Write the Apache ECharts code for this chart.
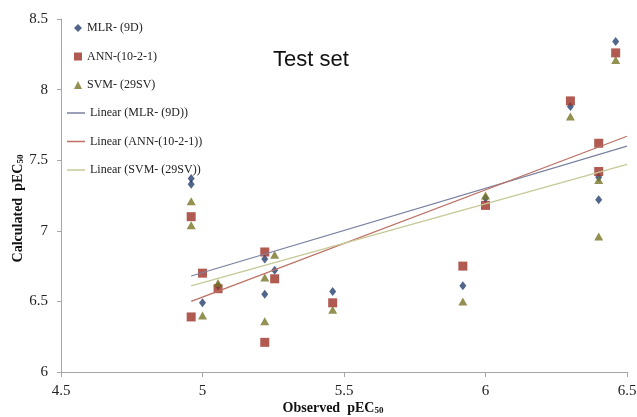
<!DOCTYPE html>
<html>
<head>
<meta charset="utf-8">
<script src="https://cdn.jsdelivr.net/npm/echarts@6/dist/echarts.min.js"></script>
<style>
  html, body { margin: 0; padding: 0; background: #fff; }
  #chart { width: 637px; height: 417px; }
</style>
</head>
<body>
<div id="chart"></div>
<script>
// Observed activity of each test-set compound
const observed = [4.96, 4.96, 5.00, 5.055, 5.22, 5.22, 5.255, 5.46, 5.92, 6.00, 6.30, 6.40, 6.40, 6.46];
// Calculated activity per model
const mlrCalc = [7.37, 7.33, 6.49, 6.61, 6.80, 6.55, 6.72, 6.57, 6.61, 7.23, 7.88, 7.22, 7.38, 8.34];
const annCalc = [7.10, 6.39, 6.70, 6.59, 6.85, 6.21, 6.66, 6.49, 6.75, 7.18, 7.92, 7.62, 7.42, 8.26];
const svmCalc = [7.21, 7.04, 6.40, 6.63, 6.67, 6.36, 6.83, 6.44, 6.50, 7.25, 7.81, 6.96, 7.36, 8.21];
// Linear trend lines: [x start, y start], [x end, y end]
const mlrTrend = [[4.96, 6.68], [6.5, 7.60]];
const annTrend = [[4.96, 6.50], [6.5, 7.67]];
const svmTrend = [[4.96, 6.61], [6.5, 7.47]];
// Axis ranges
const xRange = [4.5, 6.5];
const yRange = [6, 8.5];
const tickStep = 0.5;

const pairs = (ys) => observed.map((x, i) => [x, ys[i]]);
const serif = "'Liberation Serif', 'Times New Roman', serif";
const legendText = { fontFamily: serif, fontSize: 12, color: '#222' };

const C = {
  mlr: '#27406e', ann: '#9e3127', svm: '#777527',
  mlrLine: '#7a80a0', annLine: '#bd6f62', svmLine: '#c5c896'
};

const axisName = {
  t: { fontFamily: serif, fontSize: 14, fontWeight: 'bold', color: '#111', verticalAlign: 'bottom', lineHeight: 18 },
  s: { fontFamily: serif, fontSize: 9, fontWeight: 'bold', color: '#111', verticalAlign: 'bottom', lineHeight: 14 }
};

const chart = echarts.init(document.getElementById('chart'), null, { renderer: 'canvas' });
chart.setOption({
  animation: false,
  backgroundColor: '#ffffff',
  title: {
    text: 'Test set',
    left: 268, top: 44,
    textStyle: { fontFamily: "'Liberation Sans', Arial, sans-serif", fontSize: 22, fontWeight: 'normal', color: '#111' }
  },
  grid: { left: 61, right: 10, top: 19, bottom: 45, outerBoundsMode: 'none', containLabel: false },
  legend: [
    {
      // marker entries
      orient: 'vertical', left: 74, top: 22, padding: 0,
      itemWidth: 8, itemHeight: 8, itemGap: 16.5,
      textStyle: legendText,
      data: [
        { name: 'MLR- (9D)', icon: 'diamond' },
        { name: 'ANN-(10-2-1)', icon: 'rect' },
        { name: 'SVM- (29SV)', icon: 'triangle' }
      ]
    },
    {
      // trend line entries
      orient: 'vertical', left: 67, top: 107, padding: 0,
      itemWidth: 18, itemHeight: 1.5, itemGap: 16.5,
      textStyle: legendText,
      data: [
        { name: 'Linear (MLR- (9D))', icon: 'rect' },
        { name: 'Linear (ANN-(10-2-1))', icon: 'rect' },
        { name: 'Linear (SVM- (29SV))', icon: 'rect' }
      ]
    }
  ],
  xAxis: {
    type: 'value', min: xRange[0], max: xRange[1], interval: tickStep,
    name: '{t|Observed  pEC}{s|50}',
    nameLocation: 'middle', nameGap: 25, nameMoveOverlap: false,
    nameTextStyle: { padding: [0, 22, 0, 0], rich: axisName },
    axisLine: { lineStyle: { color: '#a6a6a6', width: 1 } },
    axisTick: { show: true, inside: false, length: 5, lineStyle: { color: '#a6a6a6' } },
    axisLabel: { fontFamily: serif, fontSize: 15, color: '#222', margin: 12 },
    splitLine: { show: false }
  },
  yAxis: {
    type: 'value', min: yRange[0], max: yRange[1], interval: tickStep,
    name: '{t|Calculated  pEC}{s|50}',
    nameLocation: 'middle', nameGap: 36, nameRotate: 90, nameMoveOverlap: false,
    nameTextStyle: { padding: [0, 26, 0, 0], rich: axisName },
    axisLine: { show: true, lineStyle: { color: '#a6a6a6', width: 1 } },
    axisTick: { show: true, inside: false, length: 4, lineStyle: { color: '#a6a6a6' } },
    axisLabel: { fontFamily: serif, fontSize: 15, color: '#222', margin: 13 },
    splitLine: { show: false }
  },
  series: [
    { name: 'MLR- (9D)', type: 'scatter', symbol: 'diamond', symbolSize: [7, 9],
      itemStyle: { color: C.mlr }, data: pairs(mlrCalc), z: 2 },
    { name: 'ANN-(10-2-1)', type: 'scatter', symbol: 'rect', symbolSize: 9,
      itemStyle: { color: C.ann }, data: pairs(annCalc), z: 3 },
    { name: 'SVM- (29SV)', type: 'scatter', symbol: 'triangle', symbolSize: [9, 8],
      itemStyle: { color: C.svm }, data: pairs(svmCalc), z: 4 },
    { name: 'Linear (MLR- (9D))', type: 'line', symbol: 'none', data: mlrTrend,
      lineStyle: { color: C.mlrLine, width: 1.2 }, itemStyle: { color: C.mlrLine }, z: 5 },
    { name: 'Linear (ANN-(10-2-1))', type: 'line', symbol: 'none', data: annTrend,
      lineStyle: { color: C.annLine, width: 1.2 }, itemStyle: { color: C.annLine }, z: 5 },
    { name: 'Linear (SVM- (29SV))', type: 'line', symbol: 'none', data: svmTrend,
      lineStyle: { color: C.svmLine, width: 1.2 }, itemStyle: { color: C.svmLine }, z: 5 }
  ]
});
</script>
</body>
</html>
